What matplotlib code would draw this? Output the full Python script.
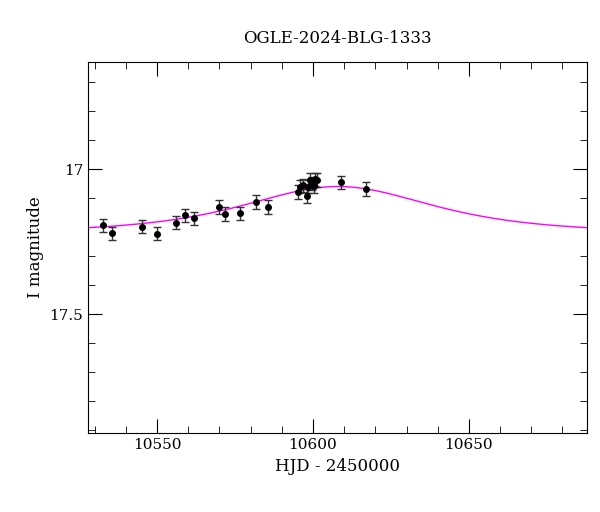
import numpy as np
import matplotlib
matplotlib.use('Agg')
import matplotlib.pyplot as plt
from matplotlib.ticker import MultipleLocator

# observed points (HJD - 2450000, I mag, error)
hjd = [10532.6, 10535.6, 10545.3, 10550.1, 10556.2, 10559.1, 10562.0, 10569.8,
       10571.8, 10576.6, 10581.7, 10585.6, 10595.3, 10596.0, 10596.8, 10598.1,
       10598.4, 10599.2, 10599.7, 10600.2, 10600.6, 10601.2, 10609.1, 10617.0]
mag = [17.194, 17.222, 17.199, 17.223, 17.185, 17.159, 17.170, 17.131,
       17.155, 17.153, 17.113, 17.131, 17.079, 17.061, 17.056, 17.093,
       17.061, 17.038, 17.049, 17.059, 17.036, 17.038, 17.046, 17.069]
err = [0.023] * len(hjd)

# microlensing model parameters
t0 = 10608.0
tE = 30.0
u0 = 1.4
base = 17.22

t = np.linspace(10527.9, 10687.8, 600)
u = np.sqrt(u0**2 + ((t - t0) / tE)**2)
A = (u**2 + 2) / (u * np.sqrt(u**2 + 4))
model = base - 2.5 * np.log10(A)

plt.rcParams['font.family'] = 'DejaVu Serif'
fig = plt.figure(figsize=(6, 5.12), dpi=100)
ax = fig.add_axes([0.1467, 0.154, 0.8313, 0.725])

ax.plot(t, model, color='magenta', lw=1)
ax.errorbar(hjd, mag, yerr=err, fmt='o', color='black', ms=4,
            ecolor='#333333', elinewidth=1, capsize=3)

ax.set_xlim(10527.9, 10687.8)
ax.set_ylim(17.91, 16.631)
ax.xaxis.set_major_locator(MultipleLocator(50))
ax.xaxis.set_minor_locator(MultipleLocator(10))
ax.yaxis.set_major_locator(MultipleLocator(0.5))
ax.yaxis.set_minor_locator(MultipleLocator(0.1))
ax.tick_params(which='both', direction='in', top=True, right=True, labelsize=11)
ax.tick_params(which='major', length=10)
ax.tick_params(which='minor', length=5)
ax.set_yticks([17, 17.5])
ax.set_yticklabels(['17', '17.5'])

ax.set_xlabel('HJD - 2450000', fontsize=12)
ax.set_ylabel('I magnitude', fontsize=12)
ax.set_title('OGLE-2024-BLG-1333', fontsize=12, pad=14)

fig.savefig('out.png')
